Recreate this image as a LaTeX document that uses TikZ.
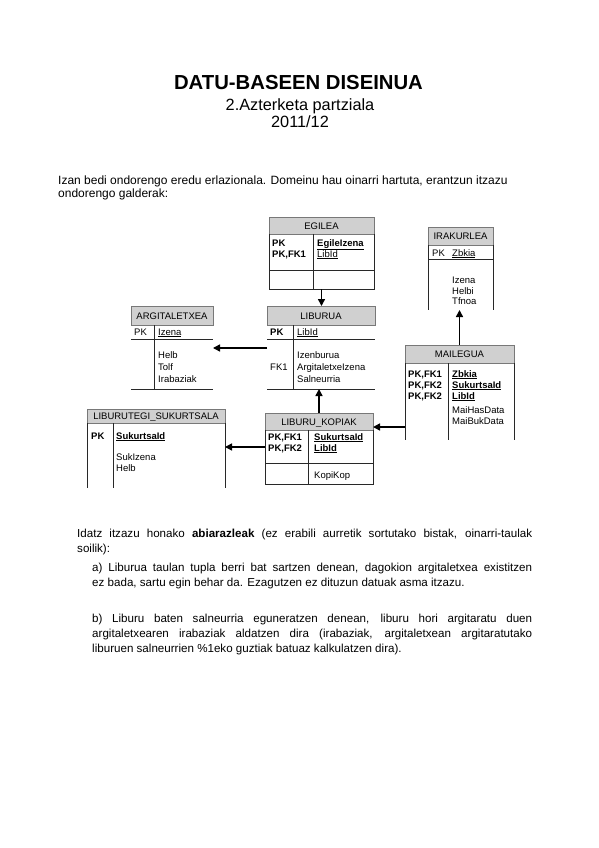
\documentclass[tikz,border=0pt]{standalone}
\usepackage{fontspec}
\setmainfont{Liberation Sans}
\usetikzlibrary{arrows.meta,fit}
\definecolor{hdrgray}{RGB}{208,208,208}
\definecolor{hdrline}{RGB}{120,120,120}
\definecolor{lncol}{RGB}{40,40,40}
\begin{document}
\begin{tikzpicture}[x=1pt,y=-1pt,
  tx/.style={inner sep=0pt, anchor=base west, font=\fontsize{9.5}{10}\selectfont},
  txb/.style={inner sep=0pt, anchor=base west, font=\bfseries\fontsize{9.5}{10}\selectfont},
  ttl/.style={inner sep=0pt, anchor=base, font=\fontsize{9.5}{10}\selectfont},
  ln/.style={draw=lncol, line width=0.9pt},
  hl/.style={draw=hdrline, line width=0.8pt},
  arr/.style={draw=black, line width=1.5pt, -{Triangle[length=7pt,width=7pt]}},
  frm/.style={inner sep=0pt, outer sep=0pt},
  body/.style={inner sep=0pt, anchor=base west, font=\fontsize{11.6}{13}\selectfont},
  intro/.style={inner sep=0pt, anchor=base west, font=\fontsize{12}{13}\selectfont}
]
\useasboundingbox[fill=white] (0,0) rectangle (599,848);

% ---------- titles ----------
\node[inner sep=0pt, anchor=base, font=\bfseries\fontsize{20.3}{22}\selectfont] (title) at (298.5,90) {DATU-BASEEN DISEINUA};
\node[inner sep=0pt, anchor=base, font=\fontsize{16.3}{18}\selectfont] (sub) at (300,111) {2.Azterketa partziala};
\node[inner sep=0pt, anchor=base, font=\fontsize{16.3}{18}\selectfont] (year) at (300,128) {2011/12};

\node[intro] (intro1) at (58,184) {Izan bedi ondorengo eredu erlazionala. Domeinu hau oinarri hartuta, erantzun itzazu};
\node[intro] (intro2) at (58,197) {ondorengo galderak:};

% ---------- EGILEA ----------
\node[frm, fit={(269,217) (374,289)}] (egilea) {};
\fill[hdrgray] (269,217) rectangle (374,234);
\draw[hl] (269,217) rectangle (374,234);
\draw[ln] (269,234) -- (269,289) -- (374,289) -- (374,234);
\draw[ln] (269,270) -- (374,270);
\draw[ln] (313,234) -- (313,289);
\node[ttl] (egilea-t) at (321.5,229) {EGILEA};
\node[txb] (egilea-k1) at (272,246) {PK};
\node[txb] (egilea-k2) at (272,257) {PK,FK1};
\node[txb] (egilea-f1) at (317,246) {\underline{EgileIzena}};
\node[tx] (egilea-f2) at (317,257) {\underline{LibId}};

% ---------- LIBURUA ----------
\node[frm, fit={(267,306) (375,389)}] (liburua) {};
\fill[hdrgray] (267,306) rectangle (375,325);
\draw[hl] (267,306) rectangle (375,325);
\draw[ln] (267,339) -- (375,339);
\draw[ln] (267,389) -- (375,389);
\draw[ln] (293,325) -- (293,389);
\node[ttl] (liburua-t) at (321,319) {LIBURUA};
\node[txb] (liburua-k1) at (270,335) {PK};
\node[tx] (liburua-f1) at (297,335) {\underline{LibId}};
\node[tx] (liburua-k2) at (270,370) {FK1};
\node[tx] (liburua-f2) at (297,358) {Izenburua};
\node[tx] (liburua-f3) at (297,370) {ArgitaletxeIzena};
\node[tx] (liburua-f4) at (297,382) {Salneurria};

% ---------- ARGITALETXEA ----------
\node[frm, fit={(131,306) (213,389)}] (argit) {};
\fill[hdrgray] (131,306) rectangle (213,325);
\draw[hl] (131,306) rectangle (213,325);
\draw[ln] (131,339) -- (213,339);
\draw[ln] (131,389) -- (213,389);
\draw[ln] (154,325) -- (154,389);
\node[ttl] (argit-t) at (172,319) {ARGITALETXEA};
\node[tx] (argit-k1) at (134,335) {PK};
\node[tx] (argit-f1) at (158,335) {\underline{Izena}};
\node[tx] (argit-f2) at (158,358) {Helb};
\node[tx] (argit-f3) at (158,370) {Tolf};
\node[tx] (argit-f4) at (158,382) {Irabaziak};

% ---------- LIBURU_KOPIAK ----------
\node[frm, fit={(265,413) (373,484)}] (kopiak) {};
\fill[hdrgray] (265,413) rectangle (373,430);
\draw[hl] (265,413) rectangle (373,430);
\draw[ln] (265,430) -- (265,484) -- (373,484) -- (373,430);
\draw[ln] (265,463) -- (373,463);
\draw[ln] (308,430) -- (308,484);
\node[ttl] (kopiak-t) at (319,425) {LIBURU\_KOPIAK};
\node[txb] (kopiak-k1) at (268,440) {PK,FK1};
\node[txb] (kopiak-k2) at (268,451) {PK,FK2};
\node[txb] (kopiak-f1) at (314,440) {\underline{SukurtsaId}};
\node[txb] (kopiak-f2) at (314,451) {\underline{LibId}};
\node[tx] (kopiak-f3) at (314,478) {KopiKop};

% ---------- LIBURUTEGI_SUKURTSALA ----------
\node[frm, fit={(87,409) (225,488)}] (sukur) {};
\fill[hdrgray] (87,409) rectangle (225,423);
\draw[hl] (87,409) rectangle (225,423);
\draw[ln] (87,423) -- (87,488);
\draw[ln] (225,423) -- (225,488);
\draw[ln] (113,423) -- (113,488);
\node[ttl] (sukur-t) at (156,419.5) {LIBURUTEGI\_SUKURTSALA};
\node[txb] (sukur-k1) at (91,439) {PK};
\node[txb] (sukur-f1) at (116,439) {\underline{SukurtsaId}};
\node[tx] (sukur-f2) at (116,460) {SukIzena};
\node[tx] (sukur-f3) at (116,471) {Helb};

% ---------- MAILEGUA ----------
\node[frm, fit={(405,345) (514,440)}] (mailegua) {};
\fill[hdrgray] (405,345) rectangle (514,363);
\draw[hl] (405,345) rectangle (514,363);
\draw[ln] (405,363) -- (405,440);
\draw[ln] (514,363) -- (514,440);
\draw[ln] (448,363) -- (448,440);
\node[ttl] (mailegua-t) at (459.5,357.5) {MAILEGUA};
\node[txb] (mailegua-k1) at (408,377) {PK,FK1};
\node[txb] (mailegua-k2) at (408,388) {PK,FK2};
\node[txb] (mailegua-k3) at (408,399) {PK,FK2};
\node[txb] (mailegua-f1) at (452,377) {\underline{Zbkia}};
\node[txb] (mailegua-f2) at (452,388) {\underline{SukurtsaId}};
\node[txb] (mailegua-f3) at (452,399) {\underline{LibId}};
\node[tx] (mailegua-f4) at (452,413) {MaiHasData};
\node[tx] (mailegua-f5) at (452,424) {MaiBukData};

% ---------- IRAKURLEA ----------
\node[frm, fit={(428,227) (493,310)}] (irakur) {};
\fill[hdrgray] (428,227) rectangle (493,245);
\draw[hl] (428,227) rectangle (493,245);
\draw[ln] (428,245) -- (428,310);
\draw[ln] (493,245) -- (493,310);
\draw[ln] (428,259) -- (493,259);
\node[ttl] (irakur-t) at (460.5,239.5) {IRAKURLEA};
\node[tx] (irakur-k1) at (432,256) {PK};
\node[tx] (irakur-f1) at (452,256) {\underline{Zbkia}};
\node[tx] (irakur-f2) at (452,283) {Izena};
\node[tx] (irakur-f3) at (452,294) {Helbi};
\node[tx] (irakur-f4) at (452,304) {Tfnoa};

% ---------- connectors ----------
\coordinate (y1) at (0,348);
\coordinate (y2) at (0,447);
\coordinate (y3) at (0,427);
\draw[arr] (egilea.south) -- (egilea.south |- liburua.north);
\draw[arr] (kopiak.north) -- (kopiak.north |- liburua.south);
\draw[arr] (liburua.west |- y1) -- (argit.east |- y1);
\draw[arr] (kopiak.west |- y2) -- (sukur.east |- y2);
\draw[arr] (mailegua.west |- y3) -- (kopiak.east |- y3);
\draw[arr] (mailegua.north) -- (mailegua.north |- irakur.south);

% ---------- questions ----------
\node[body] (q1) at (77,537) {\makebox[455pt][s]{Idatz itzazu honako \textbf{abiarazleak} (ez erabili aurretik sortutako bistak, oinarri-taulak}};
\node[body] (q2) at (77,552) {soilik):};
\node[body] (qa1) at (92,571) {\makebox[440pt][s]{a) Liburua taulan tupla berri bat sartzen denean, dagokion argitaletxea existitzen}};
\node[body] (qa2) at (92,586) {ez bada, sartu egin behar da. Ezagutzen ez dituzun datuak asma itzazu.};
\node[body] (qb1) at (92,622) {\makebox[440pt][s]{b) Liburu baten salneurria eguneratzen denean, liburu hori argitaratu duen}};
\node[body] (qb2) at (92,637) {\makebox[440pt][s]{argitaletxearen irabaziak aldatzen dira (irabaziak, argitaletxean argitaratutako}};
\node[body] (qb3) at (92,652) {liburuen salneurrien \%1eko guztiak batuaz kalkulatzen dira).};
\end{tikzpicture}
\end{document}
